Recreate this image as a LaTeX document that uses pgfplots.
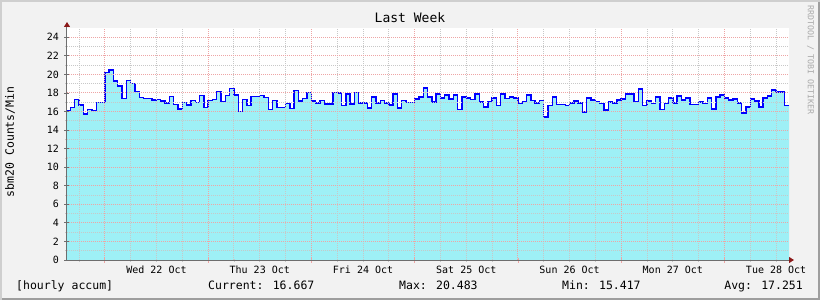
\documentclass[border=0pt]{standalone}
\usepackage{pgfplots}
\usepackage{pgfplotstable}
\pgfplotsset{compat=1.18}
\usepackage{fontspec}
\usetikzlibrary{arrows.meta}
\newfontfamily\monofont{DejaVu Sans Mono}
\setmainfont{DejaVu Sans Mono}
\newcommand\tickfont{\monofont\fontsize{10}{12}\selectfont}
\newcommand\legfont{\monofont\fontsize{11.5}{13}\selectfont}
\newcommand\titlefont{\monofont\fontsize{13}{15}\selectfont}
\newcommand\wmfont{\monofont\fontsize{8.3}{10}\selectfont}
\definecolor{bgc}{RGB}{242,242,242}
\definecolor{shadea}{RGB}{207,207,207}
\definecolor{shadeb}{RGB}{158,158,158}
\definecolor{fillc}{RGB}{158,240,246}
\definecolor{linec}{RGB}{0,0,255}
\definecolor{mgridc}{RGB}{238,165,165}
\definecolor{gridc}{RGB}{200,200,200}
\definecolor{axisc}{RGB}{110,110,110}
\definecolor{arrowc}{RGB}{140,25,25}
\definecolor{wmc}{RGB}{170,170,170}

\pgfplotstableread{
h v
-9 16.09
-8 16.45
-7 17.31
-6 16.70
-5 15.73
-4 16.24
-3 16.13
-2 16.99
-1 16.99
0 20.18
1 20.483
2 19.28
3 18.75
4 17.42
5 19.32
6 19.03
7 18.17
8 17.53
9 17.42
10 17.42
11 17.24
12 17.31
13 17.13
14 16.92
15 17.63
16 16.77
17 16.27
18 16.99
19 16.70
20 17.17
21 16.99
22 17.74
23 16.45
24 17.20
25 17.31
26 18.17
27 17.10
28 17.74
29 18.50
30 17.78
31 16.02
32 17.31
33 16.67
34 17.63
35 17.63
36 17.74
37 17.53
38 16.24
39 17.20
40 16.45
41 16.45
42 16.88
43 16.34
44 18.28
45 17.15
46 17.40
47 18.08
48 17.13
49 16.92
50 17.20
51 16.80
52 16.80
53 18.07
54 18.00
55 16.63
56 17.90
57 16.80
58 18.07
59 16.92
60 16.92
61 16.38
62 17.57
63 16.92
64 17.20
65 16.92
66 16.70
67 17.90
68 16.38
69 17.20
70 16.99
71 16.99
72 17.35
73 17.57
74 18.54
75 17.57
76 17.03
77 17.90
78 17.46
79 17.78
80 17.35
81 17.78
82 16.19
83 17.57
84 17.46
85 17.28
86 17.90
87 17.03
88 16.48
89 17.10
90 17.46
91 16.63
92 17.90
93 17.39
94 17.57
95 17.46
96 16.84
97 17.10
98 17.78
99 17.20
100 16.92
101 17.20
102 15.417
103 16.63
104 17.57
105 16.74
106 16.74
107 16.63
108 16.92
109 17.13
110 16.92
111 15.94
112 17.46
113 17.24
114 17.06
115 16.84
116 16.16
117 17.03
118 16.92
119 17.24
120 17.35
121 17.90
122 17.90
123 17.10
124 18.43
125 16.63
126 17.13
127 16.84
128 17.57
129 16.19
130 16.84
131 17.46
132 16.92
133 17.68
134 17.24
135 17.46
136 16.74
137 16.74
138 17.03
139 16.84
140 17.46
141 16.27
142 17.57
143 17.78
144 17.46
145 17.24
146 17.35
147 16.92
148 15.83
149 16.48
150 17.35
151 17.13
152 16.48
153 17.46
154 17.68
155 18.32
156 18.10
157 18.10
158 16.667
159 16.667
}\datatable

\begin{document}
\begin{tikzpicture}
\fill[bgc] (0pt,0pt) rectangle (820pt,300pt);
\fill[shadea] (0pt,0pt) rectangle (2pt,300pt);
\fill[shadea] (0pt,298pt) rectangle (820pt,300pt);
\fill[shadeb] (818pt,0pt) rectangle (820pt,298pt);
\fill[shadeb] (2pt,0pt) rectangle (820pt,2pt);
\begin{axis}[
  at={(67pt,40pt)}, anchor=south west,
  scale only axis, width=722pt, height=232pt,
  xmin=-8.8, xmax=159, ymin=0, ymax=25,
  axis on top,
  axis background/.style={fill=white},
  axis lines=left,
  axis line style={draw=axisc, line width=1pt},
  x axis line style={-{Triangle[length=5pt,width=6pt,color=arrowc,fill=arrowc]}, shorten >=-5pt},
  y axis line style={-{Triangle[length=5pt,width=6pt,color=arrowc,fill=arrowc]}, shorten >=-6pt},
  xtick={0,24,...,144},
  xticklabels={},
  minor xtick={-6,6,12,18,30,36,42,54,60,66,78,84,90,102,108,114,126,132,138,150,156},
  extra x ticks={12,36,60,84,108,132,156},
  extra x tick labels={Wed 22 Oct,Thu 23 Oct,Fri 24 Oct,Sat 25 Oct,Sun 26 Oct,Mon 27 Oct,Tue 28 Oct},
  extra x tick style={grid=none, major tick length=0pt},
  ytick={0,2,...,24},
  yticklabels={},
  minor ytick={1,3,...,23},
  extra y ticks={0,2,...,24},
  extra y tick labels={0,2,4,6,8,10,12,14,16,18,20,22,24},
  extra y tick style={grid=none, every major tick/.append style={draw=axisc}},
  xmajorgrids=true, ymajorgrids=true, xminorgrids=true, yminorgrids=true,
  every major grid/.style={color=mgridc, solid, dash pattern=on 1pt off 1pt, line width=1pt},
  every minor grid/.style={color=gridc, solid, dash pattern=on 1pt off 1pt, line width=1pt},
  tick align=center,
  major tick length=5pt, minor tick length=3pt,
  every major tick/.append style={color=mgridc, line width=0.8pt},
  every minor tick/.append style={color=gridc, line width=0.8pt},
  /pgf/number format/assume math mode=true,
  yticklabel style={font=\tickfont, xshift=-2pt},
  xticklabel style={font=\tickfont, anchor=base, yshift=-13pt},
  title={Last Week},
  title style={font=\titlefont, at={(axis description cs:0.475,1)}, anchor=base, yshift=-1pt},
  ylabel={sbm20 Counts/Min},
  ylabel style={font=\legfont, at={(axis description cs:0,0.509)}, anchor=center, yshift=57pt},
]
\addplot[const plot, draw=none, fill=fillc] table[x=h, y=v] {\datatable} \closedcycle;
\addplot[const plot, draw=linec, line width=1.4pt] table[x=h, y=v] {\datatable};
\end{axis}
\node[font=\legfont, anchor=base west, inner sep=0pt] at (16pt,10pt) {[hourly accum]};
\node[font=\legfont, anchor=base west, inner sep=0pt] at (208pt,10pt) {Current: 16.667};
\node[font=\legfont, anchor=base west, inner sep=0pt] at (399pt,10pt) {Max: 20.483};
\node[font=\legfont, anchor=base west, inner sep=0pt] at (562pt,10pt) {Min: 15.417};
\node[font=\legfont, anchor=base east, inner sep=0pt] at (803pt,10pt) {Avg: 17.251};
\node[font=\wmfont, text=wmc, rotate=-90, inner sep=0pt] at (810.5pt,240pt) {RRDTOOL / TOBI OETIKER};
\pgfresetboundingbox
\path[use as bounding box] (0pt,0pt) rectangle (820pt,300pt);
\end{tikzpicture}
\end{document}
